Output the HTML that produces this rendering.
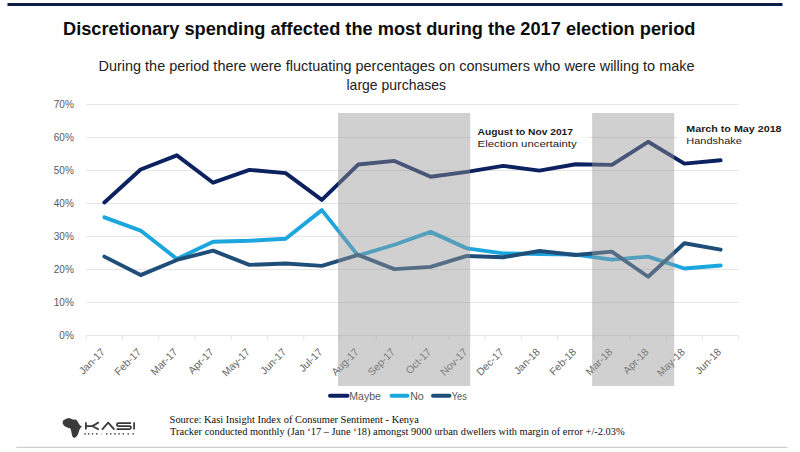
<!DOCTYPE html>
<html><head><meta charset="utf-8"><style>
html,body{margin:0;padding:0;background:#fff;width:800px;height:452px;overflow:hidden}
svg{display:block}
text{font-family:"Liberation Sans",sans-serif}
</style></head><body>
<svg width="800" height="452" viewBox="0 0 800 452">
<rect x="7.5" y="3" width="775" height="3" fill="#0b1d47"/>
<text x="63" y="34.8" font-size="18.1" font-weight="bold" fill="#0d0d0d" textLength="632.4" lengthAdjust="spacingAndGlyphs">Discretionary spending affected the most during the 2017 election period</text>
<text x="98.5" y="70.7" font-size="14.2" fill="#222222" textLength="596" lengthAdjust="spacingAndGlyphs">During the period there were fluctuating percentages on consumers who were willing to make</text>
<text x="346.5" y="89.8" font-size="14.2" fill="#222222" textLength="99.5" lengthAdjust="spacingAndGlyphs">large purchases</text>
<g stroke="#e6e6e6" stroke-width="1"><line x1="86" y1="302.50" x2="738.5" y2="302.50"/><line x1="86" y1="269.50" x2="738.5" y2="269.50"/><line x1="86" y1="236.50" x2="738.5" y2="236.50"/><line x1="86" y1="203.50" x2="738.5" y2="203.50"/><line x1="86" y1="170.50" x2="738.5" y2="170.50"/><line x1="86" y1="137.50" x2="738.5" y2="137.50"/><line x1="86" y1="104.50" x2="738.5" y2="104.50"/><line x1="86" y1="335.5" x2="738.5" y2="335.5"/><line x1="86.25" y1="335.5" x2="86.25" y2="340"/><line x1="122.50" y1="335.5" x2="122.50" y2="340"/><line x1="158.75" y1="335.5" x2="158.75" y2="340"/><line x1="195.00" y1="335.5" x2="195.00" y2="340"/><line x1="231.25" y1="335.5" x2="231.25" y2="340"/><line x1="267.50" y1="335.5" x2="267.50" y2="340"/><line x1="303.75" y1="335.5" x2="303.75" y2="340"/><line x1="340.00" y1="335.5" x2="340.00" y2="340"/><line x1="376.25" y1="335.5" x2="376.25" y2="340"/><line x1="412.50" y1="335.5" x2="412.50" y2="340"/><line x1="448.75" y1="335.5" x2="448.75" y2="340"/><line x1="485.00" y1="335.5" x2="485.00" y2="340"/><line x1="521.25" y1="335.5" x2="521.25" y2="340"/><line x1="557.50" y1="335.5" x2="557.50" y2="340"/><line x1="593.75" y1="335.5" x2="593.75" y2="340"/><line x1="630.00" y1="335.5" x2="630.00" y2="340"/><line x1="666.25" y1="335.5" x2="666.25" y2="340"/><line x1="702.50" y1="335.5" x2="702.50" y2="340"/><line x1="738.75" y1="335.5" x2="738.75" y2="340"/></g>
<g font-size="10" fill="#595959" text-anchor="end"><text x="73.8" y="339.10">0%</text><text x="73.8" y="306.10">10%</text><text x="73.8" y="273.10">20%</text><text x="73.8" y="240.10">30%</text><text x="73.8" y="207.10">40%</text><text x="73.8" y="174.10">50%</text><text x="73.8" y="141.10">60%</text><text x="73.8" y="108.10">70%</text></g>
<g font-size="10.4" fill="#666666" text-anchor="end"><text transform="translate(105.67,352.6) rotate(-45)">Jan-17</text><text transform="translate(141.93,352.6) rotate(-45)">Feb-17</text><text transform="translate(178.18,352.6) rotate(-45)">Mar-17</text><text transform="translate(214.43,352.6) rotate(-45)">Apr-17</text><text transform="translate(250.68,352.6) rotate(-45)">May-17</text><text transform="translate(286.93,352.6) rotate(-45)">Jun-17</text><text transform="translate(323.18,352.6) rotate(-45)">Jul-17</text><text transform="translate(359.43,352.6) rotate(-45)">Aug-17</text><text transform="translate(395.68,352.6) rotate(-45)">Sep-17</text><text transform="translate(431.93,352.6) rotate(-45)">Oct-17</text><text transform="translate(468.18,352.6) rotate(-45)">Nov-17</text><text transform="translate(504.43,352.6) rotate(-45)">Dec-17</text><text transform="translate(540.67,352.6) rotate(-45)">Jan-18</text><text transform="translate(576.92,352.6) rotate(-45)">Feb-18</text><text transform="translate(613.17,352.6) rotate(-45)">Mar-18</text><text transform="translate(649.42,352.6) rotate(-45)">Apr-18</text><text transform="translate(685.67,352.6) rotate(-45)">May-18</text><text transform="translate(721.92,352.6) rotate(-45)">Jun-18</text></g>
<g fill="none" stroke-width="3.9" stroke-linejoin="round" stroke-linecap="round">
<polyline stroke="#0b2160" points="104.38,202.51 140.62,169.51 176.88,155.32 213.12,182.71 249.38,169.84 285.62,173.14 321.88,199.87 358.12,164.56 394.38,160.93 430.62,176.77 466.88,171.82 503.12,165.88 539.38,170.66 575.62,164.23 611.88,164.89 648.12,141.79 684.38,163.57 720.62,160.27"/>
<polyline stroke="#1ba6de" points="104.38,217.36 140.62,230.56 176.88,258.94 213.12,241.78 249.38,240.79 285.62,238.81 321.88,210.10 358.12,255.64 394.38,244.75 430.62,231.88 466.88,248.38 503.12,253.33 539.38,253.99 575.62,254.65 611.88,259.60 648.12,256.63 684.38,268.51 720.62,265.54"/>
<polyline stroke="#1f4e79" points="104.38,256.63 140.62,275.11 176.88,259.93 213.12,250.69 249.38,264.88 285.62,263.56 321.88,265.87 358.12,254.98 394.38,269.17 430.62,266.86 466.88,255.97 503.12,257.29 539.38,251.02 575.62,254.98 611.88,251.68 648.12,276.76 684.38,243.26 720.62,249.70"/>
</g>
<rect x="338" y="113" width="132.2" height="273" fill="#979797" fill-opacity="0.45"/>
<rect x="592.1" y="113" width="82.1" height="273" fill="#979797" fill-opacity="0.45"/>
<rect x="471" y="120" width="114.5" height="30" fill="#fff"/>
<rect x="678" y="118" width="110" height="30" fill="#fff"/>
<g fill="#1a1a1a" font-size="9">
<text x="477.6" y="134.6" font-weight="bold" textLength="95.4" lengthAdjust="spacingAndGlyphs">August to Nov 2017</text>
<text x="477.6" y="146.7" textLength="99" lengthAdjust="spacingAndGlyphs">Election uncertainty</text>
<text x="686.25" y="131.9" font-weight="bold" textLength="95.35" lengthAdjust="spacingAndGlyphs">March to May 2018</text>
<text x="686.25" y="143.6" textLength="55.65" lengthAdjust="spacingAndGlyphs">Handshake</text>
</g>
<g stroke-width="4" stroke-linecap="round">
<line x1="330" y1="395.8" x2="347.5" y2="395.8" stroke="#0b2160"/>
<line x1="391.5" y1="395.8" x2="407.5" y2="395.8" stroke="#1ba6de"/>
<line x1="433" y1="395.8" x2="449.5" y2="395.8" stroke="#1f4e79"/>
</g>
<g font-size="10" fill="#595959">
<text x="349.3" y="399.5" textLength="31.6" lengthAdjust="spacingAndGlyphs">Maybe</text>
<text x="410.2" y="399.5" textLength="13.6" lengthAdjust="spacingAndGlyphs">No</text>
<text x="451.8" y="399.5" textLength="15" lengthAdjust="spacingAndGlyphs">Yes</text>
</g>
<g fill="#3a3a3a"><path d="M62.95,420.81 L66.05,418.64 L69.15,418.09 L72.86,419.45 L76.58,419.70 L78.56,423.29 L80.29,425.64 L82.02,426.07 L79.80,428.98 L78.68,431.96 L77.94,434.56 L76.08,437.03 L74.10,438.02 L72.37,436.41 L71.50,432.70 L70.88,429.60 L70.01,428.37 L67.29,427.50 L64.19,425.89 L62.58,423.29 Z"/></g>
<g fill="none" stroke="#383838" stroke-width="1.75" stroke-linejoin="round">
<path d="M85.9,422.3 V429.6 M85.9,426 H91.8 Q93,426 98.8,422.3 M91.8,426 Q93,426 98.8,429.6"/>
<path d="M102,429.6 L108.2,422.6 L114.4,429.6"/>
<path d="M131,423 H118.5 Q116.9,423 116.9,424.6 V424.8 Q116.9,426.1 118.5,426.1 H129.5 Q131,426.1 131,427.6 V427.4 Q131,429 129.5,429 H116.6"/>
<path d="M134.1,422.3 V429.6"/>
</g>
<g fill="#5a5a5a"><rect x="84.40" y="433" width="1.4" height="1.7"/><rect x="87.90" y="433" width="1.4" height="1.7"/><rect x="91.80" y="433" width="1.4" height="1.7"/><rect x="96.00" y="433" width="1.4" height="1.7"/><rect x="106.10" y="433" width="1.4" height="1.7"/><rect x="110.00" y="433" width="1.4" height="1.7"/><rect x="114.20" y="433" width="1.4" height="1.7"/><rect x="118.40" y="433" width="1.4" height="1.7"/><rect x="122.60" y="433" width="1.4" height="1.7"/><rect x="127.50" y="433" width="1.4" height="1.7"/><rect x="132.40" y="433" width="1.4" height="1.7"/><rect x="101.1" y="433" width="1" height="1.7" fill="#bbb"/></g>
<g font-size="10.4" fill="#0d0d0d" style="font-family:'Liberation Serif',serif">
<text x="169.6" y="423" textLength="249.3" lengthAdjust="spacingAndGlyphs" style="font-family:'Liberation Serif',serif">Source: Kasi Insight Index of Consumer Sentiment - Kenya</text>
<text x="170.1" y="434.8" textLength="454.6" lengthAdjust="spacingAndGlyphs" style="font-family:'Liberation Serif',serif">Tracker conducted monthly (Jan ‘17 – June ‘18) amongst 9000 urban dwellers with margin of error +/-2.03%</text>
</g>
<line x1="16.25" y1="447.3" x2="787.5" y2="447.3" stroke="#cfcfcf" stroke-width="1.2"/>
</svg>
</body></html>
